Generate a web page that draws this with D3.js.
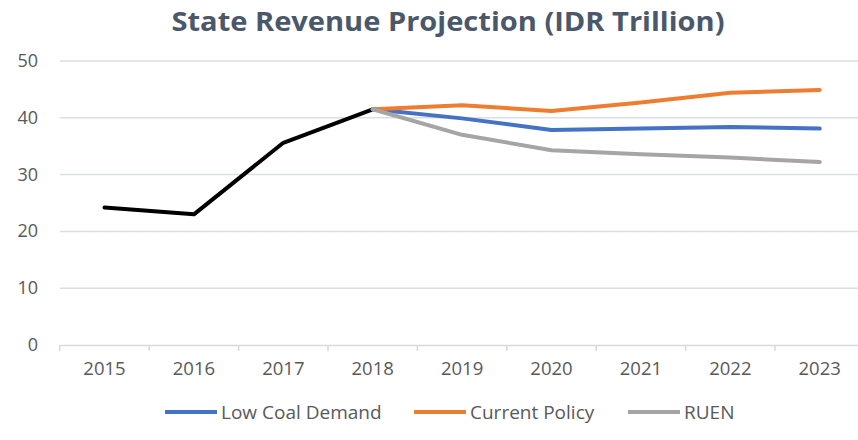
<!DOCTYPE html>
<html>
<head>
<meta charset="utf-8">
<script src="https://cdn.jsdelivr.net/npm/d3@7/dist/d3.min.js"></script>
<style>
  html, body { margin: 0; padding: 0; background: #fff; }
  svg text { font-family: "Open Sans", sans-serif; }
</style>
</head>
<body>
<div id="chart"></div>
<script>
// State revenue projection, IDR trillion
const years = ['2015', '2016', '2017', '2018', '2019', '2020', '2021', '2022', '2023'];
const yTicks = [0, 10, 20, 30, 40, 50];

// historical values up to 2018 (no legend entry)
const history = [24.2, 23.0, 35.6, 41.5, null, null, null, null, null];
const lowCoal = [null, null, null, 41.5, 39.9, 37.85, 38.1, 38.4, 38.1];
const currentPolicy = [null, null, null, 41.5, 42.2, 41.2, 42.7, 44.4, 44.9];
const ruen = [null, null, null, 41.5, 37.0, 34.3, 33.6, 33.0, 32.2];

const seriesNames = ['Low Coal Demand', 'Current Policy', 'RUEN'];
const seriesColors = ['#4472c4', '#ed7d31', '#a5a5a5'];

const width = 858, height = 440;
const svg = d3.select('#chart').append('svg').attr('width', width).attr('height', height);

const x = d3.scaleBand().domain(years).range([59.8, 864.4]);
const y = d3.scaleLinear().domain([0, 50]).range([345, 61]);

svg.append('text')
  .attr('x', 448).attr('y', 31)
  .attr('text-anchor', 'middle')
  .attr('textLength', 553).attr('lengthAdjust', 'spacingAndGlyphs')
  .style('font-size', '27px').style('font-weight', 'bold')
  .attr('fill', '#4b586a')
  .text('State Revenue Projection (IDR Trillion)');

// gridlines
svg.append('g')
  .selectAll('line')
  .data(yTicks.filter(d => d > 0))
  .enter().append('line')
  .attr('x1', x.range()[0]).attr('x2', width)
  .attr('y1', d => y(d)).attr('y2', d => y(d))
  .attr('stroke', '#dadee6').attr('stroke-width', 1.5);

// y labels
svg.append('g')
  .selectAll('text')
  .data(yTicks)
  .enter().append('text')
  .attr('x', 38).attr('y', d => y(d) + 6)
  .attr('text-anchor', 'end')
  .style('font-size', '18px')
  .attr('fill', '#595959')
  .text(d => d);

// x axis
const xAxis = svg.append('g').attr('transform', `translate(0,${y(0)})`)
  .call(d3.axisBottom(x).tickSize(0).tickPadding(17));
xAxis.select('.domain').attr('stroke', '#d5d9e0').attr('stroke-width', 1.5);
xAxis.selectAll('text').style('font-size', '18.5px').attr('fill', '#595959')
  .style('font-family', '"Open Sans", sans-serif');
xAxis.selectAll('.bound')
  .data(years.map(d => x(d)).concat([x.range()[1]]))
  .enter().append('line')
  .attr('class', 'bound')
  .attr('x1', d => d).attr('x2', d => d)
  .attr('y1', 0).attr('y2', 6)
  .attr('stroke', '#d5d9e0').attr('stroke-width', 1.5);

const line = d3.line()
  .defined(d => d != null)
  .x((d, i) => x(years[i]) + x.bandwidth() / 2)
  .y(d => y(d));

const allLines = [
  { values: history, color: '#000000' },
  { values: lowCoal, color: seriesColors[0] },
  { values: currentPolicy, color: seriesColors[1] },
  { values: ruen, color: seriesColors[2] }
];

svg.append('g')
  .selectAll('path')
  .data(allLines)
  .enter().append('path')
  .attr('d', d => line(d.values))
  .attr('fill', 'none')
  .attr('stroke', d => d.color)
  .attr('stroke-width', 4)
  .attr('stroke-linejoin', 'round')
  .attr('stroke-linecap', 'round');

// legend
const legendX = [165, 414, 628];
const legend = svg.append('g')
  .selectAll('g')
  .data(seriesNames)
  .enter().append('g')
  .attr('transform', (d, i) => `translate(${legendX[i]},412)`);

legend.append('line')
  .attr('x1', 0).attr('x2', 52)
  .attr('stroke', (d, i) => seriesColors[i])
  .attr('stroke-width', 4);

legend.append('text')
  .attr('x', 56).attr('y', 7)
  .style('font-size', '19px')
  .attr('fill', '#595959')
  .text(d => d);
</script>
</body>
</html>
